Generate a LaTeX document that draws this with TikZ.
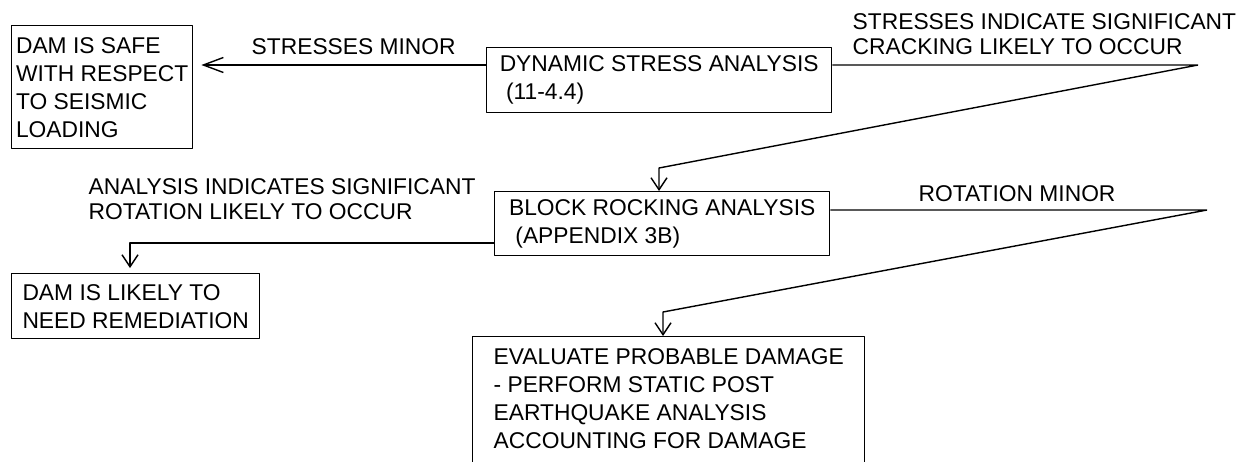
\documentclass[tikz,border=0pt]{standalone}
\usepackage{fontspec}
\setmainfont{Liberation Sans}
\usetikzlibrary{arrows.meta}

\begin{document}
\begin{tikzpicture}[x=0.5pt, y=-0.5pt, line width=0.7pt, line join=bevel,
    >={Straight Barb[length=6pt, width=8pt]},
    stepbox/.style={draw, anchor=north west, align=left, inner sep=0pt, font=\fontsize{11.4}{14}\selectfont},
    note/.style={anchor=north west, align=left, inner sep=0pt, font=\fontsize{11.4}{12.5}\selectfont}]
    \useasboundingbox (0,0) rectangle (1253,461);

    % Boxes
    \node[stepbox, minimum width=90.5pt, minimum height=61.5pt] (safe) at (11,25) {DAM IS SAFE\\WITH RESPECT\\TO SEISMIC\\LOADING};
    \node[stepbox, minimum width=172.5pt, minimum height=32.5pt] (dsa) at (486,47) {DYNAMIC STRESS ANALYSIS\\\ (11-4.4)};
    \node[stepbox, minimum width=167.5pt, minimum height=32pt] (bra) at (494,191) {BLOCK ROCKING ANALYSIS\\\ (APPENDIX 3B)};
    \node[stepbox, minimum width=124pt, minimum height=32.5pt] (likely) at (11,273) {DAM IS LIKELY TO\\NEED REMEDIATION};
    \node[stepbox, minimum width=196pt, inner ysep=6pt, text depth=12pt] (epd) at (472,336) {EVALUATE PROBABLE DAMAGE\\- PERFORM STATIC POST\\EARTHQUAKE ANALYSIS\\ACCOUNTING FOR DAMAGE};

    % Labels
    \node[note] (minorA) at (251,38) {STRESSES MINOR};
    \node[note] (crack) at (852,13) {STRESSES INDICATE SIGNIFICANT\\CRACKING LIKELY TO OCCUR};
    \node[note] (rotate) at (88,178) {ANALYSIS INDICATES SIGNIFICANT\\ROTATION LIKELY TO OCCUR};
    \node[note] (minorB) at (918,185) {ROTATION MINOR};

    % Turning points
    \coordinate (crackend) at (1198,65);
    \coordinate (crackbend) at (659,168);
    \coordinate (rotend) at (1207,210);
    \coordinate (rotbend) at (663,312);
    \coordinate (rotleft) at (130,243);

    % Connectors
    \draw[->, >={Straight Barb[length=10pt, width=7.5pt]}, shorten >=4pt] (dsa.west |- crackend) -- (safe.east |- crackend);
    \draw[->] (dsa.east |- crackend) -- (crackend) -- (crackbend) -- (crackbend |- bra.north);
    \draw[->] (bra.east |- rotend) -- (rotend) -- (rotbend) -- (rotbend |- epd.north);
    \draw[->, shorten >=2.5pt] (bra.west |- rotleft) -- (rotleft) -- (rotleft |- likely.north);
\end{tikzpicture}
\end{document}
